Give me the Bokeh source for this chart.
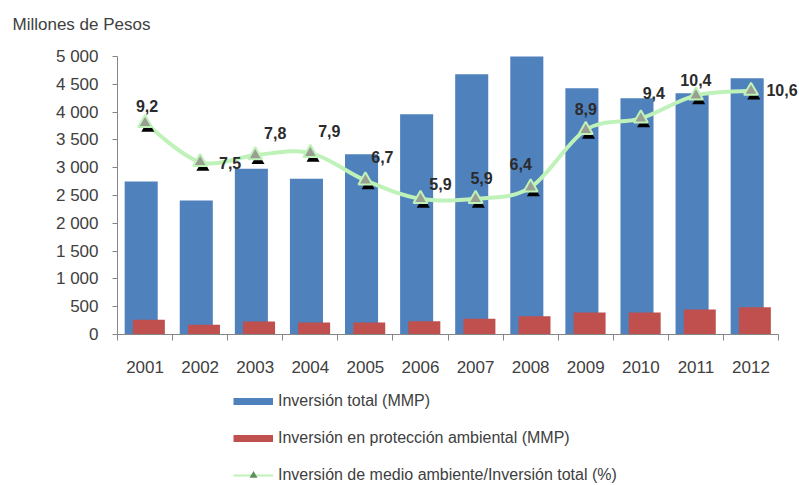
import numpy as np
from bokeh.plotting import figure
from bokeh.layouts import column
from bokeh.models import (ColumnDataSource, Range1d, FixedTicker, Legend, LegendItem)
from bokeh.transform import dodge
from bokeh.core.properties import value
from bokeh.embed import file_html
from bokeh.resources import INLINE

# ---------------- data ----------------
years = ["2001", "2002", "2003", "2004", "2005", "2006",
         "2007", "2008", "2009", "2010", "2011", "2012"]
inversion_total = [2750, 2410, 2980, 2800, 3240, 3960, 4680, 5000, 4430, 4250, 4340, 4610]
inversion_proteccion = [265, 175, 235, 215, 215, 240, 285, 330, 395, 395, 450, 490]
porcentaje = [9.2, 7.5, 7.8, 7.9, 6.7, 5.9, 5.9, 6.4, 8.9, 9.4, 10.4, 10.6]
y_ticks = [0, 500, 1000, 1500, 2000, 2500, 3000, 3500, 4000, 4500, 5000]
y_tick_labels = ["0", "500", "1 000", "1 500", "2 000", "2 500", "3 000",
                 "3 500", "4 000", "4 500", "5 000"]
legend_labels = ["Inversión total (MMP)",
                 "Inversión en protección ambiental (MMP)",
                 "Inversión de medio ambiente/Inversión total (%)"]

# label placement (pixel offsets relative to each point) -- style only
label_dx = [2, 30, 20, 19, 17, 20, 6, -10, 0, 13, 0, 31]
label_dy = [-17, 1, -22, -22, -23, -15, -21, -23, -21, -25, -15, -1]

FONT = "Liberation Sans"
BLUE = "#4F81BD"
RED = "#C0504D"
GREEN = "#bff2b8"
AXIS = "#868686"
TXT = "#404040"

n = len(years)
xpos = np.arange(1, n + 1, dtype=float)

src = ColumnDataSource(dict(
    x=xpos, total=inversion_total, prot=inversion_proteccion, pct=porcentaje,
    lab=[f"{v:.1f}".replace(".", ",") for v in porcentaje],
    dx=label_dx, dy=label_dy,
))

Y_END = 5288
Y2_END = Y_END * 12.09 / 5000

p = figure(width=799, height=390, output_backend="svg", toolbar_location=None,
           x_range=Range1d(0.5, 12.88), y_range=Range1d(0, Y_END),
           min_border_left=117, min_border_right=0, min_border_top=40,
           min_border_bottom=56)
p.extra_y_ranges = {"pct": Range1d(0, Y2_END)}
p.outline_line_color = None
p.xgrid.visible = False
p.ygrid.visible = False
p.background_fill_color = "white"

# title
p.title.text = "Millones de Pesos"
p.title.text_font = FONT
p.title.text_font_size = "17px"
p.title.text_font_style = "normal"
p.title.text_color = TXT
p.title.align = "left"
p.title.offset = -105
p.title.standoff = 13

# bars
p.vbar(x=dodge("x", -0.07), top="total", width=0.6, source=src,
       fill_color=BLUE, line_color=None)
p.vbar(x=dodge("x", 0.07), top="prot", width=0.58, source=src,
       fill_color=RED, line_color=None)

# smoothed line (Bezier segments through the data points)
x0, y0, x1, y1, cx0, cy0, cx1, cy1 = ([] for _ in range(8))
ys = np.array(porcentaje, dtype=float)
for i in range(n - 1):
    a = i - 1 if i > 0 else i
    b = i + 2 if i + 2 < n else i + 1
    x0.append(xpos[i]); y0.append(ys[i])
    x1.append(xpos[i + 1]); y1.append(ys[i + 1])
    cx0.append(xpos[i] + (xpos[i + 1] - xpos[a]) / 6)
    cy0.append(ys[i] + (ys[i + 1] - ys[a]) / 6)
    cx1.append(xpos[i + 1] - (xpos[b] - xpos[i]) / 6)
    cy1.append(ys[i + 1] - (ys[b] - ys[i]) / 6)
p.bezier(x0=x0, y0=y0, x1=x1, y1=y1, cx0=cx0, cy0=cy0, cx1=cx1, cy1=cy1,
         y_range_name="pct", line_color=GREEN, line_width=4)

# marker shadows + markers
p.scatter(x=dodge("x", 0.05), y=dodge("pct", -0.22), source=src, y_range_name="pct",
          marker="triangle", size=13, fill_color="black", line_color=None)
p.scatter(x="x", y="pct", source=src, y_range_name="pct",
          marker="triangle", size=14, fill_color="#9a9f92", line_color=GREEN,
          line_width=2)

# data labels
p.text(x="x", y="pct", text="lab", source=src, y_range_name="pct",
       x_offset="dx", y_offset="dy",
       text_font=value(FONT), text_font_size="16px", text_font_style="bold",
       text_color="#2b2b2b", text_align="center", text_baseline="middle")

# y axis
ya = p.yaxis[0]
ya.ticker = FixedTicker(ticks=y_ticks)
ya.major_label_overrides = {t: l for t, l in zip(y_ticks, y_tick_labels)}
ya.bounds = (0, 5000)
ya.axis_line_color = AXIS
ya.major_tick_line_color = AXIS
ya.major_tick_out = 5
ya.major_tick_in = 0
ya.minor_tick_line_color = None
ya.major_label_text_font = FONT
ya.major_label_text_font_size = "17px"
ya.major_label_text_color = TXT
ya.major_label_standoff = 14

# x axis
xa = p.xaxis[0]
xa.ticker = FixedTicker(ticks=list(xpos), minor_ticks=list(np.arange(0.5, n + 1, 1.0)))
xa.major_label_overrides = {int(x): y for x, y in zip(xpos, years)}
xa.bounds = (0.5, n + 0.5)
xa.axis_line_color = AXIS
xa.major_tick_line_color = None
xa.major_tick_out = 0
xa.major_tick_in = 0
xa.minor_tick_line_color = AXIS
xa.minor_tick_out = 6
xa.minor_tick_in = 0
xa.major_label_text_font = FONT
xa.major_label_text_font_size = "17px"
xa.major_label_text_color = TXT
xa.major_label_standoff = 20

# ---------------- legend figure ----------------
lg = figure(width=799, height=95, output_backend="svg", toolbar_location=None,
            x_range=Range1d(0, 1), y_range=Range1d(0, 1),
            x_axis_location=None, y_axis_location=None,
            min_border_left=0, min_border_right=0, min_border_top=0,
            min_border_bottom=0)
lg.outline_line_color = None
lg.xgrid.visible = False
lg.ygrid.visible = False
# legend-only proxies, placed outside the legend figure's visible range
r_blue = lg.line(x=[-1, -2], y=[-1, -2], line_color=BLUE, line_width=7)
r_red = lg.line(x=[-1, -2], y=[-1, -2], line_color=RED, line_width=7)
r_gl = lg.line(x=[-1, -2], y=[-1, -2], line_color=GREEN, line_width=2)
r_gm = lg.scatter(x=[-1], y=[-1], marker="triangle", size=6, fill_color="#5f8f5f",
                  line_color=None)
legend = Legend(items=[
    LegendItem(label=legend_labels[0], renderers=[r_blue]),
    LegendItem(label=legend_labels[1], renderers=[r_red]),
    LegendItem(label=legend_labels[2], renderers=[r_gl, r_gm]),
], location=(116, 0))
legend.glyph_width = 40
legend.glyph_height = 20
legend.label_height = 20
legend.label_standoff = 5
legend.spacing = 17
legend.padding = 0
legend.margin = 0
legend.border_line_color = None
legend.background_fill_alpha = 0
legend.label_text_font = FONT
legend.label_text_font_size = "16px"
legend.label_text_color = TXT
lg.add_layout(legend)

layout = column(p, lg, spacing=0)
open("out.html", "w").write(file_html(layout, INLINE))
